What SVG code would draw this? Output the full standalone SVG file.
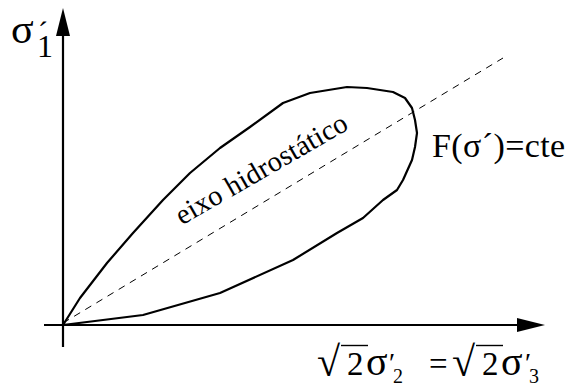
<svg xmlns="http://www.w3.org/2000/svg" width="566" height="387" viewBox="0 0 566 387">
<style>
 .ax{stroke:#000;stroke-width:2.2;fill:none}
 .curve{stroke:#000;stroke-width:2.2;fill:none;stroke-linejoin:round}
 .dash{stroke:#000;stroke-width:1;stroke-dasharray:7 6;fill:none}
 .head{fill:#000;stroke:none}
 .bar{stroke:#000;stroke-width:1.4}
</style>
<rect width="566" height="387" fill="#fff"/>
<g id="connectors">
 <line class="ax" x1="63" y1="347" x2="63" y2="30"/>
 <polygon class="head" points="63,8 56,36 70,36"/>
 <line class="ax" x1="44" y1="325" x2="522" y2="325"/>
 <polygon class="head" points="545,325 517,318 517,332"/>
 <line class="dash" x1="63" y1="323" x2="503" y2="58"/>
</g>
<g id="yield-surface">
 <polyline class="curve" points="63,325 80,298 107,263 133,233 163,200 190,173 220,148 250,127 283,103 310,93 347,87 367,88 380,90 393,92 405,98 412,108 415,120 417,133 415,147 412,160 403,180 397,190 383,200 363,218 337,233 293,260 220,293 143,315 63,325"/>
</g>
<g id="label-y" font-family="Liberation Serif" fill="#000">
 <text x="11" y="43" font-size="42">σ<tspan x="38" y="42" font-size="30">´</tspan><tspan x="37" y="57" font-size="32">1</tspan></text>
</g>
<g id="label-x" font-family="Liberation Serif" fill="#000">
 <text x="317" y="376" font-size="42">√<tspan x="347" y="375" font-size="33">2</tspan><tspan x="366" y="375" font-size="40">σ</tspan><tspan x="389" y="372" font-size="28">′</tspan><tspan x="393" y="383" font-size="20">2</tspan></text>
 <line class="bar" x1="341" y1="345.5" x2="368" y2="345.5"/>
 <text x="429" y="375" font-size="33">=</text>
 <text x="452" y="376" font-size="42">√<tspan x="482" y="375" font-size="33">2</tspan><tspan x="501" y="375" font-size="40">σ</tspan><tspan x="525" y="372" font-size="28">′</tspan><tspan x="529" y="383" font-size="20">3</tspan></text>
 <line class="bar" x1="476" y1="345.5" x2="503" y2="345.5"/>
</g>
<g id="label-F" font-family="Liberation Serif" fill="#000">
 <text x="432" y="157" font-size="34" letter-spacing="0.4">F(σ´)=cte</text>
</g>
<g id="label-axis" font-family="Liberation Serif" fill="#000">
 <text x="266" y="177" font-size="28.5" text-anchor="middle" letter-spacing="0.2" transform="rotate(-30 266 177)">eixo hidrostático</text>
</g>
</svg>
